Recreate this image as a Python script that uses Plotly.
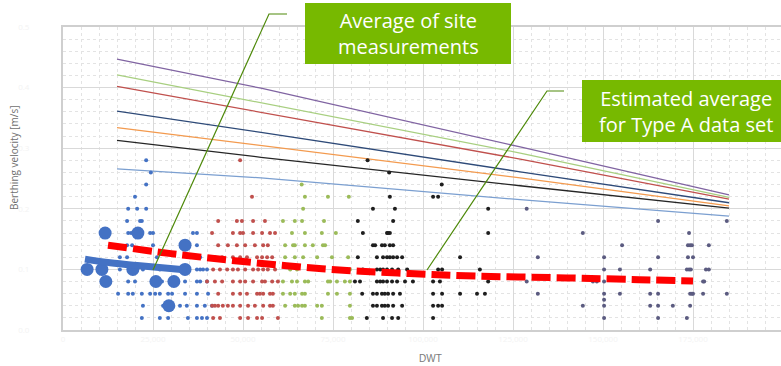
import plotly.graph_objects as go

# ---------------- data (DWT in thousand t, velocity in m/s) ----------------
design_dwt = [15, 55, 127, 185]
curve_purple = [0.447, 0.399, 0.302, 0.223]
curve_green = [0.421, 0.375, 0.292, 0.219]
curve_red = [0.402, 0.359, 0.282, 0.216]
curve_navy = [0.361, 0.326, 0.261, 0.210]
curve_orange = [0.334, 0.304, 0.251, 0.205]
curve_black = [0.313, 0.285, 0.238, 0.201]
curve_lightblue = [0.266, 0.251, 0.215, 0.188]

blue_rows = [
    (0.28, [23.1]), (0.26, [24.4]), (0.24, [23.1]), (0.22, [20.0]),
    (0.20, [18.1, 20.6, 23.1]), (0.18, [17.8, 21.4, 21.9]),
    (0.16, [18.1, 18.9, 24.2, 25.0, 36.1, 37.2]),
    (0.14, [17.8, 19.2, 25.0, 37.2]),
    (0.12, [15.8, 17.8, 26.1, 35.3, 37.2, 38.1]),
    (0.10, [15.8, 22.2, 26.9, 37.2, 38.1, 38.9, 40.0]),
    (0.08, [18.1, 20.0, 27.5, 33.9, 37.2, 38.1, 40.0]),
    (0.06, [15.3, 18.1, 19.4, 21.9, 24.2, 25.6, 26.9, 29.2, 30.3, 33.9, 37.2, 40.3]),
    (0.04, [22.2, 27.8, 32.5, 34.4, 37.2, 39.4, 41.4]),
    (0.02, [21.9, 26.9, 29.2, 34.7, 37.2, 38.6, 40.0]),
]
red_rows = [
    (0.28, [49.2]), (0.22, [52.5]),
    (0.18, [43.1, 48.3, 49.7, 52.8, 56.1]),
    (0.16, [41.4, 47.2, 49.2, 50.0, 52.8, 55.3, 57.5, 58.9]),
    (0.14, [43.1, 45.8, 48.3, 50.6, 53.3, 55.6, 56.9]),
    (0.12, [42.2, 44.2, 47.2, 49.2, 51.1, 53.9, 55.3, 56.7, 58.1]),
    (0.10, [41.7, 43.6, 45.6, 47.2, 48.6, 50.6, 52.8, 54.2, 55.6, 56.9, 58.9]),
    (0.08, [40.0, 42.2, 44.2, 47.2, 49.2, 50.6, 52.8, 55.3, 56.1, 58.1, 59.7]),
    (0.06, [43.1, 47.2, 49.2, 51.1, 53.9, 54.7, 55.6, 57.5, 58.3]),
    (0.04, [41.4, 42.2, 43.1, 44.4, 45.8, 47.2, 49.2, 51.4, 53.3, 55.6, 57.5, 58.3]),
    (0.02, [41.7, 43.6, 49.2, 51.4, 53.9, 55.3, 59.7]),
]
green_rows = [
    (0.24, [66.3]), (0.22, [67.2, 73.6, 79.4]), (0.20, [66.7]),
    (0.18, [61.1, 64.4, 66.4, 72.5]),
    (0.16, [63.6, 67.2, 71.9, 75.8]),
    (0.14, [61.7, 63.9, 64.4, 67.2, 69.4, 72.2, 72.8]),
    (0.12, [61.7, 64.4, 66.7, 70.6, 74.7, 79.2]),
    (0.10, [63.1, 65.0, 76.1, 79.7]),
    (0.08, [61.1, 63.6, 65.0, 67.2, 68.1, 73.6, 74.2, 76.1, 78.3, 79.7]),
    (0.06, [61.1, 63.1, 64.4, 66.4, 67.2, 73.6, 76.1, 79.7]),
    (0.04, [61.7, 64.4, 65.3, 66.4, 67.2, 70.6, 71.9, 79.7]),
    (0.02, [71.9, 79.7, 80.3]),
]
black_rows = [
    (0.28, [84.6]), (0.26, [90.6]), (0.24, [105.2]),
    (0.22, [90.8, 102.8, 104.2]), (0.20, [86.1, 92.2, 118.1]),
    (0.18, [81.9, 91.7]),
    (0.16, [83.3, 90.0, 90.3, 90.8, 118.1]),
    (0.14, [86.1, 86.7, 88.6, 89.4, 90.8, 91.7]),
    (0.12, [81.9, 87.2, 88.9, 90.0, 90.8, 91.7, 92.8, 94.2, 110.3]),
    (0.10, [83.3, 87.2, 88.1, 88.9, 90.0, 91.4, 93.1, 95.6, 104.2, 105.3, 115.8]),
    (0.08, [81.1, 82.5, 87.2, 88.1, 88.9, 90.0, 91.4, 92.8, 95.0, 97.2, 102.8, 104.7, 118.1]),
    (0.06, [83.1, 86.1, 87.2, 88.6, 89.4, 90.3, 91.7, 93.6, 102.8, 105.3, 110.3, 115.0, 117.2]),
    (0.04, [86.1, 87.2, 88.6, 89.4, 90.3, 91.7, 94.2, 102.8, 104.2, 105.3]),
    (0.02, [84.4, 88.9, 91.4, 93.1, 102.8]),
]
purple_rows = [
    (0.20, [128.8]), (0.18, [165.3, 184.4]), (0.16, [144.4, 173.9]),
    (0.14, [155.3, 173.6, 174.2, 174.7, 179.4]),
    (0.12, [131.9, 150.3, 165.3, 173.6, 175.0]),
    (0.10, [150.3, 154.7, 163.1, 173.3, 173.9, 174.4, 178.6, 179.4]),
    (0.08, [128.8, 147.2, 148.3, 150.3, 177.8, 178.1]),
    (0.06, [131.9, 150.3, 154.7, 163.1, 165.3, 174.2, 174.7, 175.0, 177.8, 184.4]),
    (0.05, [150.3]),
    (0.04, [144.4, 150.3, 163.1, 165.3, 169.4, 174.2]),
    (0.02, [150.3, 165.3, 173.3]),
]

site_dwt = [6.7, 10.8, 11.7, 11.9, 19.4, 20.8, 25.8, 30.8, 29.4, 33.9, 33.9]
site_vel = [0.10, 0.10, 0.16, 0.08, 0.10, 0.16, 0.08, 0.08, 0.04, 0.14, 0.10]

site_avg_dwt = [6.1, 13.1, 21.4, 34.4]
site_avg_vel = [0.117, 0.111, 0.106, 0.099]

typeA_dwt = [12.5, 30, 50, 72, 93, 115, 140, 160, 175]
typeA_vel = [0.140, 0.126, 0.113, 0.101, 0.094, 0.089, 0.086, 0.083, 0.081]

x_ticks = [0, 25, 50, 75, 100, 125, 150, 175, 200]
x_ticklabels = ["0", "25,000", "50,000", "75,000", "100,000", "125,000", "150,000", "175,000", "200,000"]


def flatten(rows):
    xs, ys = [], []
    for v, ds in rows:
        for d in ds:
            xs.append(d)
            ys.append(v)
    return xs, ys


fig = go.Figure()

curves = [
    (curve_lightblue, "#7b9fd0"), (curve_black, "#262626"), (curve_orange, "#f39a4e"),
    (curve_navy, "#2e4a78"), (curve_red, "#c0504d"), (curve_green, "#a8cf80"),
    (curve_purple, "#8064a2"),
]
for ys, col in curves:
    fig.add_trace(go.Scatter(x=design_dwt, y=ys, mode="lines",
                             line=dict(color=col, width=1.3), hoverinfo="skip"))

groups = [
    (blue_rows, "#4472c4"), (red_rows, "#c0504d"), (green_rows, "#9bbb59"),
    (black_rows, "#1e1e1e"), (purple_rows, "#5b5b80"),
]
for rows, col in groups:
    xs, ys = flatten(rows)
    fig.add_trace(go.Scatter(x=xs, y=ys, mode="markers",
                             marker=dict(color=col, size=4, line=dict(width=0))))

fig.add_trace(go.Scatter(x=site_dwt, y=site_vel, mode="markers",
                         marker=dict(color="#4472c4", size=13, line=dict(width=0))))
fig.add_trace(go.Scatter(x=site_avg_dwt, y=site_avg_vel, mode="lines",
                         line=dict(color="#4472c4", width=7, shape="spline")))
fig.add_trace(go.Scatter(x=typeA_dwt, y=typeA_vel, mode="lines",
                         line=dict(color="#ff0000", width=7, dash="19px,6px", shape="spline")))

L, R, T, B = 63, 781, 27, 330


def pxx(x):
    return (x - L) / (R - L)


def pxy(y):
    return (B - y) / (B - T)


green_box = "#77b900"
shapes = [
    dict(type="rect", xref="paper", yref="paper", x0=pxx(305), x1=pxx(511),
         y0=pxy(64), y1=pxy(3), fillcolor=green_box, line=dict(width=0), layer="above"),
    dict(type="rect", xref="paper", yref="paper", x0=pxx(582), x1=pxx(800),
         y0=pxy(142), y1=pxy(80), fillcolor=green_box, line=dict(width=0), layer="above"),
    dict(type="path", xref="paper", yref="paper",
         path=f"M {pxx(287)},{pxy(14)} L {pxx(269)},{pxy(14)} L {pxx(153)},{pxy(270)}",
         line=dict(color="#4f8a0b", width=1.2), layer="above"),
    dict(type="path", xref="paper", yref="paper",
         path=f"M {pxx(564)},{pxy(91)} L {pxx(547)},{pxy(91)} L {pxx(427)},{pxy(270)}",
         line=dict(color="#4f8a0b", width=1.2), layer="above"),
]

annotations = [
    dict(xref="paper", yref="paper", x=pxx(408), y=pxy(33.5), text="Average of site<br>measurements",
         showarrow=False, font=dict(family="Open Sans", size=20, color="white"),
         xanchor="center", yanchor="middle"),
    dict(xref="paper", yref="paper", x=pxx(686), y=pxy(111), text="Estimated average<br>for Type A data set",
         showarrow=False, font=dict(family="Open Sans", size=20, color="white"),
         xanchor="center", yanchor="middle"),
    dict(xref="paper", yref="paper", x=pxx(14), y=pxy(158), text="Berthing velocity [m/s]",
         textangle=-90, showarrow=False, font=dict(family="Open Sans", size=10, color="#6f6f6f"),
         xanchor="center", yanchor="middle"),
    dict(xref="paper", yref="paper", x=pxx(430), y=pxy(358), text="DWT",
         showarrow=False, font=dict(family="Liberation Sans", size=10, color="#7a7a7a"),
         xanchor="center", yanchor="middle"),
]

fig.update_layout(
    width=781, height=366, autosize=False,
    margin=dict(l=L, r=781 - R, t=T, b=366 - B),
    paper_bgcolor="white", plot_bgcolor="white",
    showlegend=False,
    shapes=shapes, annotations=annotations,
    xaxis=dict(range=[0, 25 * (R - L) / 90], tickvals=x_ticks, ticktext=x_ticklabels,
               showgrid=True, gridcolor="#d9d9d9", gridwidth=1,
               minor=dict(dtick=5, showgrid=True, gridcolor="#e3e3e3", griddash="dot"),
               showline=True, linecolor="#cfcfcf", linewidth=2, mirror=True,
               zeroline=False, ticks="", tickfont=dict(size=8, color="#f3f3f3")),
    yaxis=dict(range=[0, 0.5], dtick=0.1, tickformat=".1f",
               showgrid=True, gridcolor="#d9d9d9", gridwidth=1,
               minor=dict(dtick=0.02, showgrid=True, gridcolor="#e3e3e3", griddash="dot"),
               showline=True, linecolor="#cfcfcf", linewidth=2, mirror=False,
               zeroline=False, ticks="", ticklabelstandoff=30,
               tickfont=dict(size=8, color="#f3f3f3")),
)

fig.write_html("out.html")
